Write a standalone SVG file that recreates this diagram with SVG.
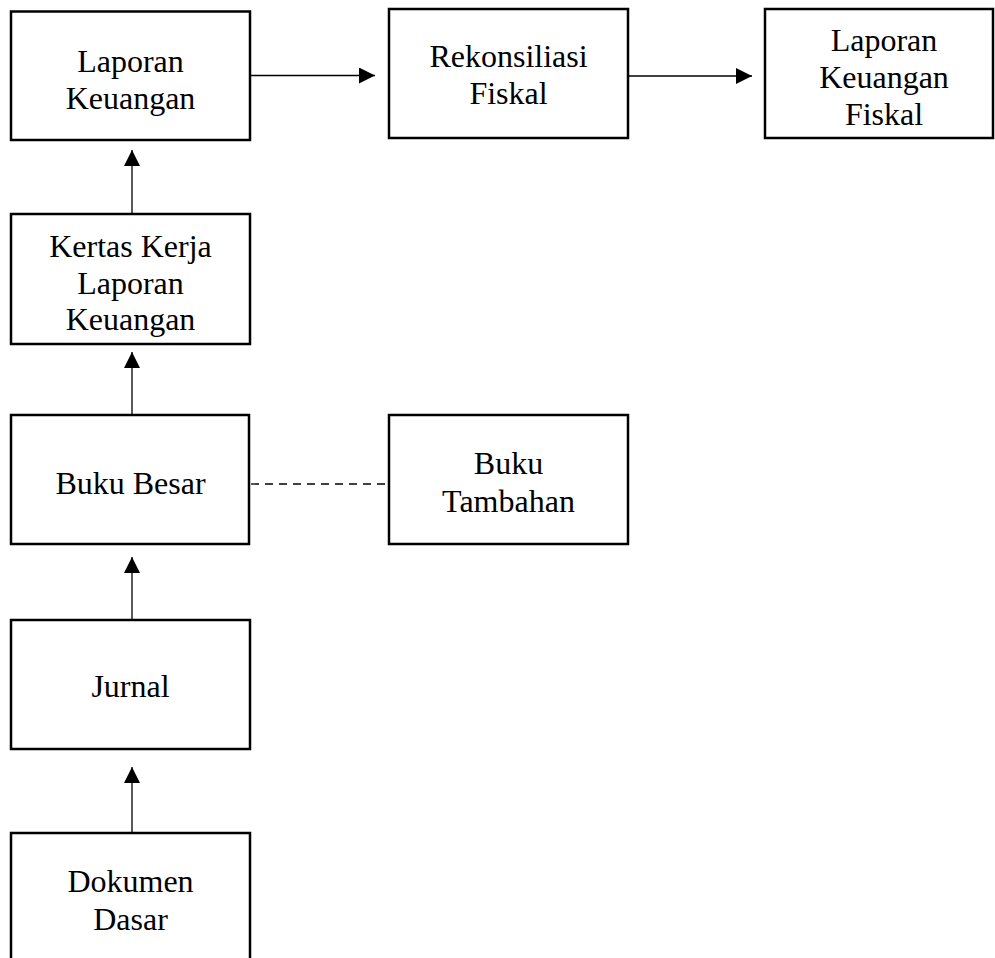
<svg xmlns="http://www.w3.org/2000/svg" width="995" height="958" viewBox="0 0 995 958">
<style>
.box{fill:#fff;stroke:#000;stroke-width:2.5}
.lbl{font-family:"Liberation Serif","Times New Roman",serif;font-size:32px;fill:#000;text-anchor:middle}
.con{stroke:#000;stroke-width:1.3;fill:none}
.dash{stroke:#000;stroke-width:1.3;fill:none;stroke-dasharray:8 6}
</style>
<defs>
<marker id="ah" markerUnits="userSpaceOnUse" markerWidth="16" markerHeight="16" refX="16" refY="8" orient="auto">
<path d="M0,0 L16,8 L0,16 Z" fill="#000"/>
</marker>
</defs>
<rect width="995" height="958" fill="#fff"/>
<g id="connectors">
<line class="con" x1="250" y1="75.5" x2="375" y2="75.5" marker-end="url(#ah)"/>
<line class="con" x1="628" y1="76" x2="752" y2="76" marker-end="url(#ah)"/>
<line class="con" x1="132" y1="213" x2="132" y2="150" marker-end="url(#ah)"/>
<line class="con" x1="132" y1="414" x2="132" y2="352" marker-end="url(#ah)"/>
<line class="con" x1="132" y1="619" x2="132" y2="557" marker-end="url(#ah)"/>
<line class="con" x1="132" y1="832" x2="132" y2="767" marker-end="url(#ah)"/>
<line class="dash" x1="251" y1="484" x2="389" y2="484"/>
</g>
<g id="laporan-keuangan">
<rect class="box" x="11" y="11.5" width="239" height="128.5"/>
<text class="lbl" x="130.5" y="71.5">Laporan</text>
<text class="lbl" x="130.5" y="109">Keuangan</text>
</g>
<g id="rekonsiliasi-fiskal">
<rect class="box" x="389" y="9" width="239" height="129"/>
<text class="lbl" x="508.5" y="67">Rekonsiliasi</text>
<text class="lbl" x="508.5" y="104">Fiskal</text>
</g>
<g id="laporan-keuangan-fiskal">
<rect class="box" x="765" y="9" width="228" height="129"/>
<text class="lbl" x="884" y="51">Laporan</text>
<text class="lbl" x="884" y="88">Keuangan</text>
<text class="lbl" x="884" y="124.5">Fiskal</text>
</g>
<g id="kertas-kerja">
<rect class="box" x="11" y="214" width="239" height="130"/>
<text class="lbl" x="130.5" y="257">Kertas Kerja</text>
<text class="lbl" x="130.5" y="294">Laporan</text>
<text class="lbl" x="130.5" y="330">Keuangan</text>
</g>
<g id="buku-besar">
<rect class="box" x="11" y="415" width="238" height="129"/>
<text class="lbl" x="130.5" y="494">Buku Besar</text>
</g>
<g id="buku-tambahan">
<rect class="box" x="389" y="415" width="239" height="129"/>
<text class="lbl" x="508.5" y="474">Buku</text>
<text class="lbl" x="508.5" y="512">Tambahan</text>
</g>
<g id="jurnal">
<rect class="box" x="11" y="620" width="239" height="129"/>
<text class="lbl" x="130.5" y="697">Jurnal</text>
</g>
<g id="dokumen-dasar">
<rect class="box" x="11" y="833" width="239" height="140"/>
<text class="lbl" x="130.5" y="892">Dokumen</text>
<text class="lbl" x="130.5" y="930">Dasar</text>
</g>
</svg>
